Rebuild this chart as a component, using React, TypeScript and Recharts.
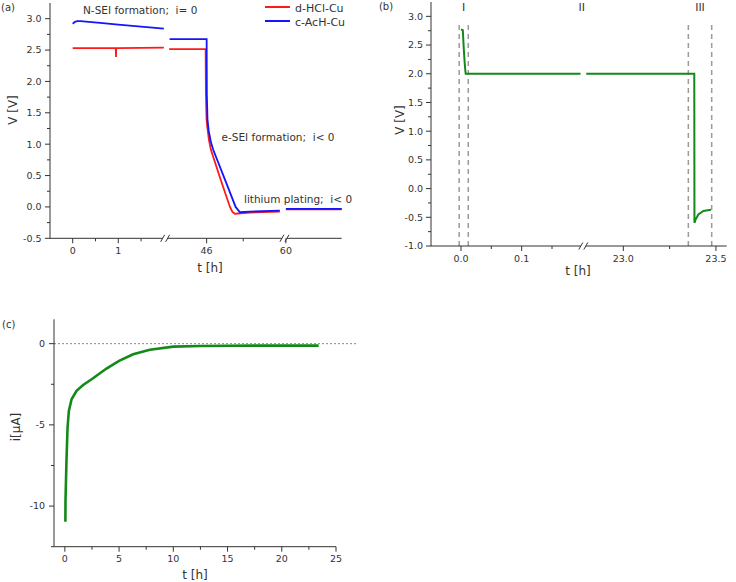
import { Line, LineChart, ReferenceDot, ReferenceLine, XAxis, YAxis } from 'recharts';
import type { ReactNode } from 'react';

const FONT = '"DejaVu Sans", sans-serif';
const INK = '#333333';
const RED = '#ff1a1a';
const BLUE = '#1414ff';
const GREEN = '#138a18';

// (a) V vs t, two electrodes, broken time axis (three segments)
const redT1 = [0, 0.5, 0.93, 0.945, 0.95, 0.955, 0.97, 1.5, 2.0];
const redV1 = [2.53, 2.53, 2.53, 2.53, 2.39, 2.53, 2.53, 2.535, 2.54];
const blueT1 = [0, 0.05, 0.1, 0.17, 0.6, 1.0, 1.5, 2.0];
const blueV1 = [2.92, 2.95, 2.96, 2.96, 2.932, 2.906, 2.873, 2.84];
const redT2 = [41.9, 45.89, 45.92, 45.99, 46.09, 46.25, 46.47, 47.5, 48.55, 48.82, 49.09, 49.42, 50.73, 54.0];
const redV2 = [2.515, 2.515, 1.8, 1.4, 1.25, 1.07, 0.91, 0.45, 0.0, -0.08, -0.11, -0.105, -0.09, -0.075];
const blueT2 = [41.95, 46.0, 46.02, 46.09, 46.22, 46.47, 46.72, 47.95, 49.17, 49.64, 50.73, 54.0];
const blueV2 = [2.675, 2.675, 1.8, 1.4, 1.22, 1.03, 0.91, 0.455, 0.0, -0.085, -0.075, -0.06];
const redT3 = [60.0, 66.1];
const redV3 = [-0.04, -0.04];
const blueT3 = [60.0, 66.1];
const blueV3 = [-0.03, -0.03];
const aMajorT = [0, 1, 46, 60];
const aMajorLabels = ['0', '1', '46', '60'];
const aMinorT = [0.5, 1.5, 50];
const aBreakU = [115.2, 234.5];

// (b) V vs t, single cell, broken time axis
const gT1 = [0, 0.003, 0.0045, 0.006, 0.0072, 0.0078, 0.012, 0.197];
const gV1 = [2.77, 2.76, 2.45, 2.2, 2.05, 2.0, 2.0, 2.0];
const gT2 = [22.8, 23.383, 23.384, 23.39, 23.405, 23.432, 23.473];
const gV2 = [2.0, 2.0, -0.596, -0.54, -0.45, -0.39, -0.37];
const bMajorT = [0, 0.1, 23, 23.5];
const bMajorLabels = ['0.0', '0.1', '23.0', '23.5'];
const bMinorT = [0.05, 0.15, 23.25];
const bStageT = [-0.003, 0.012, 23.351, 23.477];
const bBreakU = [152.3];

// (c) i vs t
const cT = [0.05, 0.06, 0.15, 0.25, 0.37, 0.62, 1.08, 1.69, 2.6, 3.84, 5.0, 6.3, 7.84, 10.0, 12.45, 15, 18, 21, 23.4];
const cI = [-10.96, -9.67, -7.21, -5.16, -4.14, -3.42, -2.9, -2.54, -2.13, -1.53, -1.06, -0.65, -0.37, -0.18, -0.14, -0.13, -0.12, -0.12, -0.12];
const cXMajor = [0, 5, 10, 15, 20, 25];
const cXMinor = [2.5, 7.5, 12.5, 17.5, 22.5];
const cYMajor = [-10, -5, 0];
const cYMinor = [-12.5, -7.5, -2.5];

const toUA = (t: number) => (t < 20 ? 22.7 + 45.6 * t : t < 57 ? 156.7 + 9.15 * (t - 46) : 236 + 9.15 * (t - 60));
const toUB = (t: number) => (t < 10 ? 30 + 606.7 * t : 192.3 + 185.3 * (t - 23));

const rows = (ts: number[], vs: number[], map: (t: number) => number) =>
  ts.map((t, i) => ({ u: map(t), v: vs[i] }));

const near = (list: number[], v: number) => list.findIndex((m) => Math.abs(m - v) < 1e-6);

const xTick = (major: number[], labels: string[], gap: number) => (p: any) => {
  const i = near(major, p.payload.value);
  return (
    <g>
      <line x1={p.x} x2={p.x} y1={p.y} y2={p.y + (i >= 0 ? 5 : 3)} stroke={INK} />
      {i >= 0 && (
        <text x={p.x} y={p.y + gap} textAnchor="middle" fontSize={9.5} fill={INK} fontFamily={FONT}>
          {labels[i]}
        </text>
      )}
    </g>
  );
};

const yTick = (major: number[], fmt: (v: number) => string, gap: number) => (p: any) => {
  const i = near(major, p.payload.value);
  return (
    <g>
      <line x1={p.x} x2={p.x - (i >= 0 ? 5 : 3)} y1={p.y} y2={p.y} stroke={INK} />
      {i >= 0 && (
        <text x={p.x - gap} y={p.y + 3.4} textAnchor="end" fontSize={9.5} fill={INK} fontFamily={FONT}>
          {fmt(major[i])}
        </text>
      )}
    </g>
  );
};

const breakMark = (p: any) => (
  <g>
    <rect x={p.cx - 2.5} y={p.cy - 1.5} width={5} height={3} fill="#ffffff" />
    <line x1={p.cx - 4.5} y1={p.cy + 3.5} x2={p.cx - 0.5} y2={p.cy - 3.5} stroke={INK} />
    <line x1={p.cx + 0.5} y1={p.cy + 3.5} x2={p.cx + 4.5} y2={p.cy - 3.5} stroke={INK} />
  </g>
);

function Txt({
  x,
  y,
  size = 11,
  anchor = 'start',
  rotate = false,
  children,
}: {
  x: number;
  y: number;
  size?: number;
  anchor?: 'start' | 'middle' | 'end';
  rotate?: boolean;
  children: ReactNode;
}) {
  const tx = anchor === 'middle' ? '-50%' : anchor === 'end' ? '-100%' : '0';
  return (
    <div
      style={{
        position: 'absolute',
        left: x,
        top: y,
        fontSize: size,
        lineHeight: 1,
        whiteSpace: 'nowrap',
        color: INK,
        transform: `translate(${tx}, -50%)${rotate ? ' rotate(-90deg)' : ''}`,
      }}
    >
      {children}
    </div>
  );
}

const seg = (data: { u: number; v: number }[], color: string, width = 1.8) => (
  <Line
    data={data}
    dataKey="v"
    type="linear"
    stroke={color}
    strokeWidth={width}
    dot={false}
    isAnimationActive={false}
  />
);

export default function App() {
  const aTicks = [...aMajorT, ...aMinorT].map(toUA).sort((a, b) => a - b);
  const aMajorU = aMajorT.map(toUA);
  const bTicks = [...bMajorT, ...bMinorT].map(toUB).sort((a, b) => a - b);
  const bMajorU = bMajorT.map(toUB);
  const vTicks = [-1, -0.75, -0.5, -0.25, 0, 0.25, 0.5, 0.75, 1, 1.25, 1.5, 1.75, 2, 2.25, 2.5, 2.75, 3];
  const vMajor = [-1, -0.5, 0, 0.5, 1, 1.5, 2, 2.5, 3];

  return (
    <div style={{ position: 'absolute', left: 0, top: 0, width: 736, height: 582, fontFamily: FONT, background: '#fff' }}>
      {/* (a) */}
      <div style={{ position: 'absolute', left: 0, top: 0 }}>
        <LineChart width={360} height={290} margin={{ top: 3, right: 18.3, bottom: 21.7, left: 10 }}>
          <XAxis
            type="number"
            dataKey="u"
            domain={[0, 291.7]}
            ticks={aTicks}
            interval={0}
            tickSize={0}
            tickMargin={0}
            height={30}
            axisLine={{ stroke: INK }}
            tickLine={false}
            tick={xTick(aMajorU, aMajorLabels, 15.5)}
          />
          <YAxis
            type="number"
            domain={[-0.5, 3.25]}
            ticks={vTicks.filter((v) => v >= -0.5)}
            interval={0}
            width={40}
            tickSize={0}
            tickMargin={0}
            axisLine={{ stroke: INK }}
            tickLine={false}
            tick={yTick(vMajor, (v) => v.toFixed(1), 8.5)}
          />
          {seg(rows(redT1, redV1, toUA), RED)}
          {seg(rows(blueT1, blueV1, toUA), BLUE)}
          {seg(rows(redT2, redV2, toUA), RED)}
          {seg(rows(blueT2, blueV2, toUA), BLUE)}
          {seg(rows(redT3, redV3, toUA), RED)}
          {seg(rows(blueT3, blueV3, toUA), BLUE)}
          {aBreakU.map((u) => (
            <ReferenceDot key={u} x={u} y={-0.5} ifOverflow="visible" shape={breakMark} />
          ))}
        </LineChart>
      </div>
      <Txt x={1} y={8} size={10}>(a)</Txt>
      <Txt x={13} y={110} anchor="middle" rotate size={12}>V [V]</Txt>
      <Txt x={210} y={268} anchor="middle" size={12}>t [h]</Txt>
      <Txt x={83} y={9.5} size={10.5}>N-SEI formation;&nbsp; i=&nbsp;0</Txt>
      <Txt x={221.5} y={137} size={10.5}>e-SEI formation;&nbsp; i&lt;&nbsp;0</Txt>
      <Txt x={244} y={198.5} size={10.5}>lithium plating;&nbsp; i&lt;&nbsp;0</Txt>
      <div style={{ position: 'absolute', left: 265, top: 5.5, width: 25, height: 2, background: RED }} />
      <div style={{ position: 'absolute', left: 265, top: 19.5, width: 25, height: 2, background: BLUE }} />
      <Txt x={295} y={7.5} size={11}>d-HCl-Cu</Txt>
      <Txt x={295} y={21.5} size={11}>c-AcH-Cu</Txt>

      {/* (b) */}
      <div style={{ position: 'absolute', left: 360, top: 0 }}>
        <LineChart width={376} height={290} margin={{ top: 2, right: 9.3, bottom: 14, left: 31 }}>
          <XAxis
            type="number"
            dataKey="u"
            domain={[0, 295.7]}
            ticks={bTicks}
            interval={0}
            tickSize={0}
            tickMargin={0}
            height={30}
            axisLine={{ stroke: INK }}
            tickLine={false}
            tick={xTick(bMajorU, bMajorLabels, 16)}
          />
          <YAxis
            type="number"
            domain={[-1, 3.25]}
            ticks={vTicks}
            interval={0}
            width={40}
            tickSize={0}
            tickMargin={0}
            axisLine={{ stroke: INK }}
            tickLine={false}
            tick={yTick(vMajor, (v) => v.toFixed(1), 8)}
          />
          {bStageT.map((t) => (
            <ReferenceLine
              key={t}
              segment={[
                { x: toUB(t), y: -1 },
                { x: toUB(t), y: 2.85 },
              ]}
              stroke="#9a9a9a"
              strokeWidth={1.5}
              strokeDasharray="5 4"
            />
          ))}
          {seg(rows(gT1, gV1, toUB), GREEN, 2)}
          {seg(rows(gT2, gV2, toUB), GREEN, 2)}
          {bBreakU.map((u) => (
            <ReferenceDot key={u} x={u} y={-1} ifOverflow="visible" shape={breakMark} />
          ))}
        </LineChart>
      </div>
      <Txt x={386} y={7} size={10} anchor="middle">(b)</Txt>
      <Txt x={400} y={120} anchor="middle" rotate size={12}>V [V]</Txt>
      <Txt x={578} y={271} anchor="middle" size={12}>t [h]</Txt>
      <Txt x={463.7} y={7} anchor="middle" size={11}>I</Txt>
      <Txt x={581.7} y={7} anchor="middle" size={11}>II</Txt>
      <Txt x={700} y={7} anchor="middle" size={11}>III</Txt>

      {/* (c) */}
      <div style={{ position: 'absolute', left: 0, top: 300 }}>
        <LineChart width={360} height={282} margin={{ top: 19.3, right: 24, bottom: 5.3, left: 14 }}>
          <XAxis
            type="number"
            dataKey="u"
            domain={[-1, 25]}
            ticks={[...cXMajor, ...cXMinor].sort((a, b) => a - b)}
            interval={0}
            tickSize={0}
            tickMargin={0}
            height={30}
            axisLine={{ stroke: INK }}
            tickLine={false}
            tick={xTick(cXMajor, cXMajor.map(String), 15)}
          />
          <YAxis
            type="number"
            domain={[-12.5, 1.5]}
            ticks={[...cYMajor, ...cYMinor].sort((a, b) => a - b)}
            interval={0}
            width={40}
            tickSize={0}
            tickMargin={0}
            axisLine={{ stroke: INK }}
            tickLine={false}
            tick={yTick(cYMajor, (v) => String(v), 9)}
          />
          <ReferenceLine
            segment={[
              { x: -1, y: 0 },
              { x: 26.9, y: 0 },
            ]}
            ifOverflow="visible"
            stroke="#888888"
            strokeDasharray="2 2"
          />
          {seg(rows(cT, cI, (t) => t), GREEN, 2.6)}
        </LineChart>
      </div>
      <Txt x={2} y={325} size={10}>(c)</Txt>
      <Txt x={16} y={427} anchor="middle" rotate size={12}>i[μA]</Txt>
      <Txt x={195} y={575} anchor="middle" size={12}>t [h]</Txt>
    </div>
  );
}
